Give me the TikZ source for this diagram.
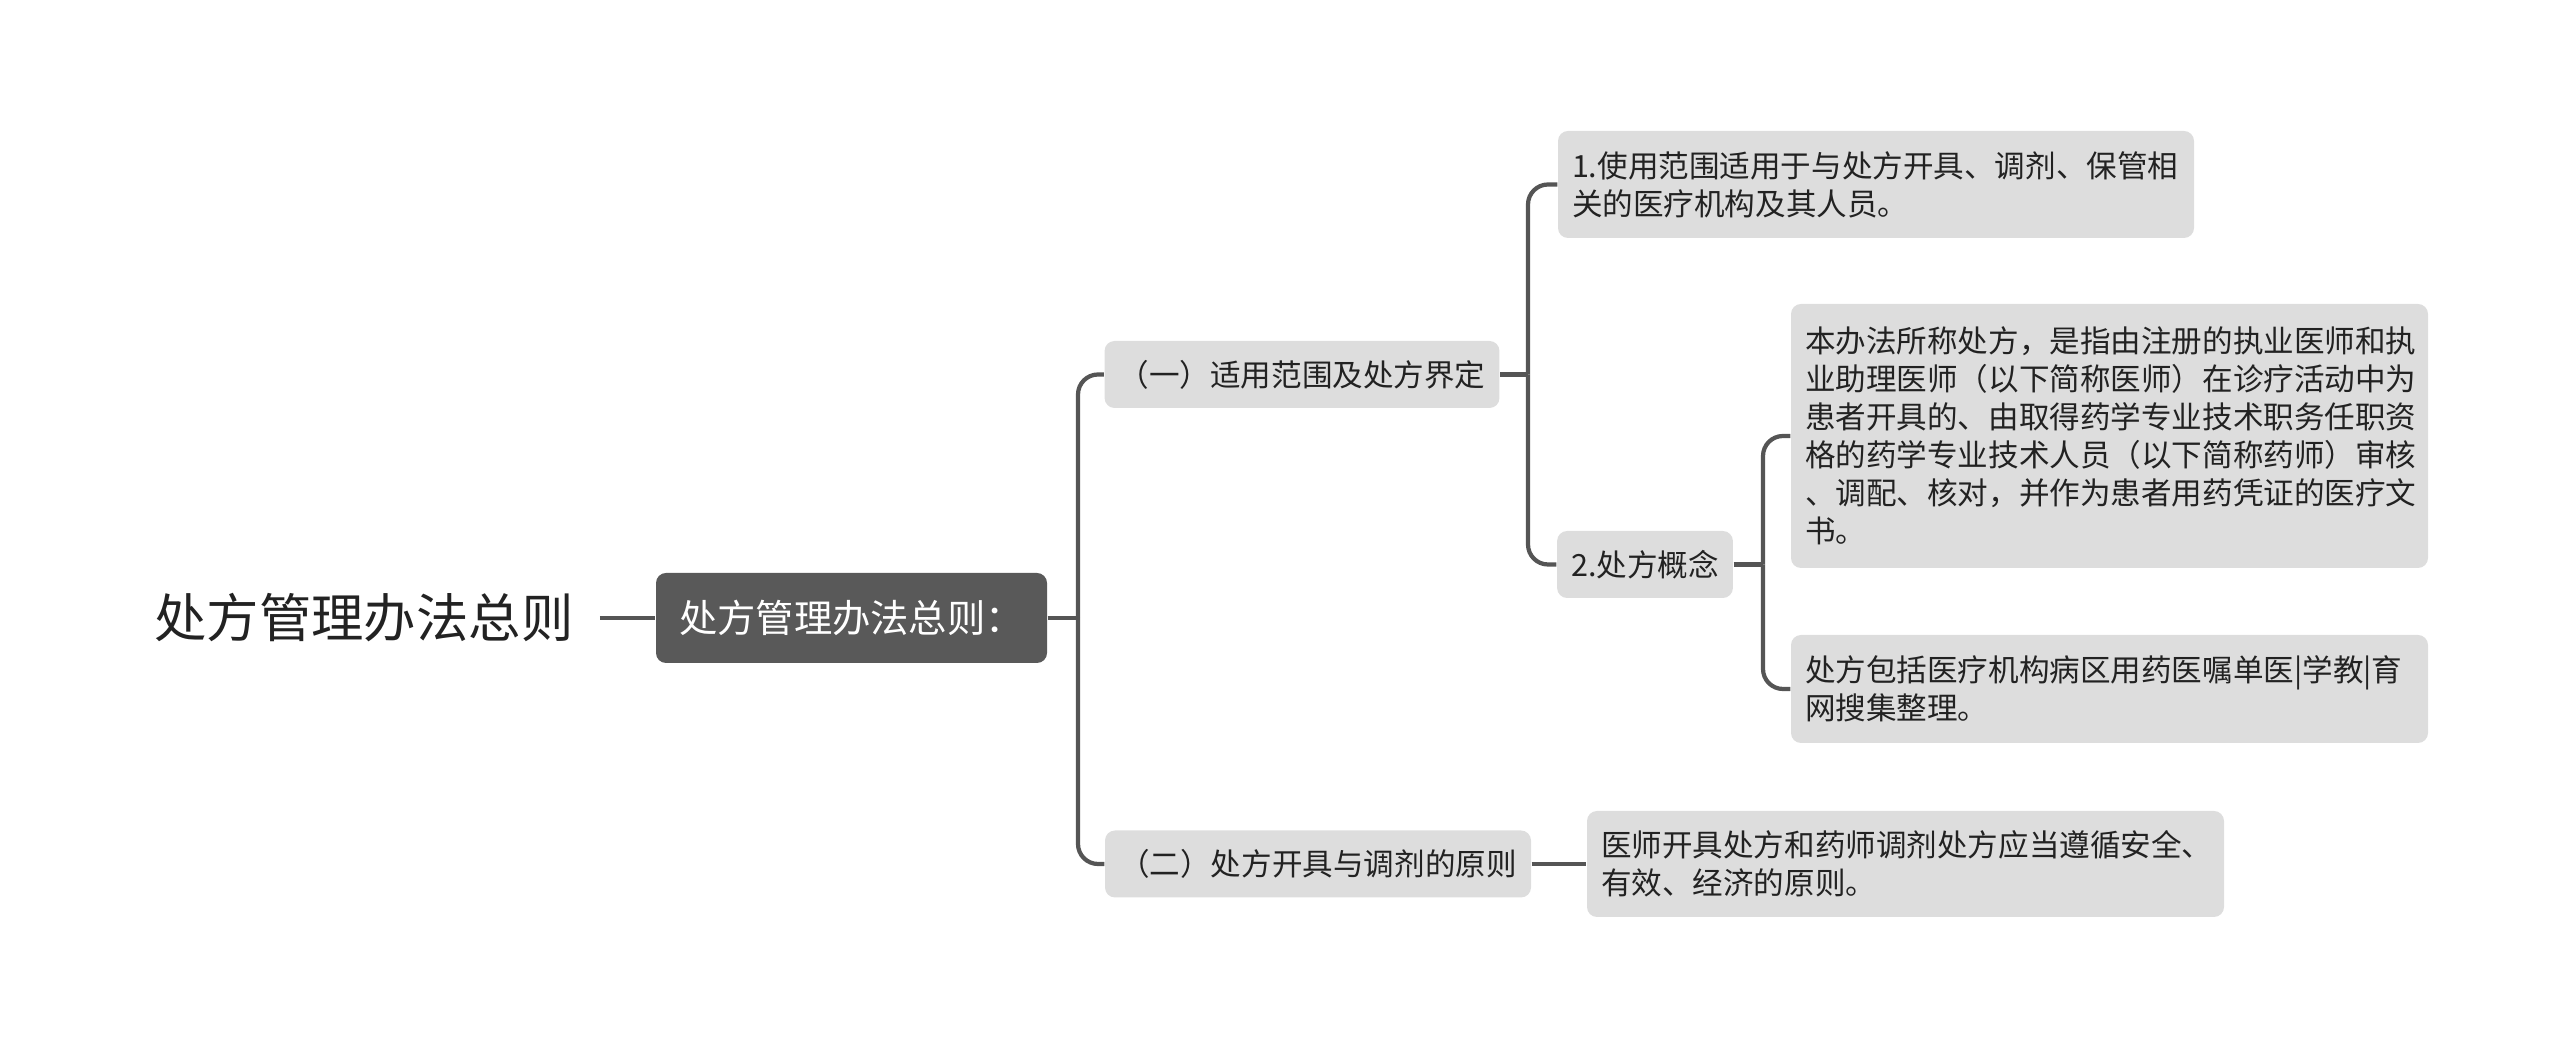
\documentclass[tikz,border=0pt]{standalone}
\usepackage{fontspec}
\setmainfont{Noto Sans CJK SC}
\usetikzlibrary{calc}

\definecolor{boxgray}{HTML}{DDDDDD}
\definecolor{linegray}{HTML}{555555}
\definecolor{darkbox}{HTML}{595959}
\definecolor{txt}{HTML}{222222}

\begin{document}
\begin{tikzpicture}[
    leaf/.style={fill=boxgray,rounded corners=1mm,text=txt,font=\fontsize{8.7pt}{10.8pt}\selectfont,align=left,inner xsep=0.14cm,inner ysep=0pt},
    conn/.style={draw=linegray,line width=1.2pt,rounded corners=2mm}
]
        \useasboundingbox (0,0) rectangle (25.6,10.48);

        % 1. Title and main box
        \node (root) at (3.64,4.30) [font=\fontsize{14.9pt}{16pt}\selectfont,text=txt] {处方管理办法总则};
        \node (main) at (8.515,4.30) [fill=darkbox,rounded corners=1mm,minimum width=3.91cm,minimum height=0.9cm,text=white,font=\fontsize{10.9pt}{12pt}\selectfont] {处方管理办法总则：};
        \draw[conn] ($(root.east)+(0.14,0)$) -- (main.west);

        % 2. Two sections
        \node (b1) at (13.02,6.735) [leaf,minimum width=3.94cm,minimum height=0.67cm] {（一）适用范围及处方界定};
        \node (b2) at (13.18,1.84) [leaf,minimum width=4.26cm,minimum height=0.67cm] {（二）处方开具与调剂的原则};

        \coordinate (t0) at (10.78,4.30);
        \draw[conn] (main.east) -- (t0);
        \draw[conn] (t0) |- (b1.west);
        \draw[conn] (t0) |- (b2.west);

        % 3. Leaves of section one
        \node (l1) at (18.76,8.635) [leaf,text width=6.08cm,minimum height=1.07cm] {1.使用范围适用于与处方开具、调剂、保管相\\关的医疗机构及其人员。};
        \node (l2) at (16.45,4.835) [leaf,minimum width=1.74cm,minimum height=0.67cm] {2.处方概念};

        \coordinate (t1) at (15.28,6.735);
        \draw[conn] (b1.east) -- (t1);
        \draw[conn] (t1) |- (l1.west);
        \draw[conn] (t1) |- (l2.west);

        % Concept details
        \node (l2a) at (21.095,6.12) [leaf,text width=6.09cm,minimum height=2.64cm] {本办法所称处方，是指由注册的执业医师和执\\业助理医师（以下简称医师）在诊疗活动中为\\患者开具的、由取得药学专业技术职务任职资\\格的药学专业技术人员（以下简称药师）审核\\、调配、核对，并作为患者用药凭证的医疗文\\书。};
        \node (l2b) at (21.095,3.59) [leaf,text width=6.09cm,minimum height=1.08cm] {处方包括医疗机构病区用药医嘱单医|学教|育\\网搜集整理。};

        \coordinate (t2) at (17.63,4.835);
        \draw[conn] (l2.east) -- (t2);
        \draw[conn] (t2) |- (l2a.west);
        \draw[conn] (t2) |- (l2b.west);

        % 4. Leaf of section two
        \node (l3) at (19.055,1.84) [leaf,text width=6.09cm,minimum height=1.06cm] {医师开具处方和药师调剂处方应当遵循安全、\\有效、经济的原则。};
        \draw[conn] (b2.east) -- (l3.west);

    \end{tikzpicture}
\end{document}
